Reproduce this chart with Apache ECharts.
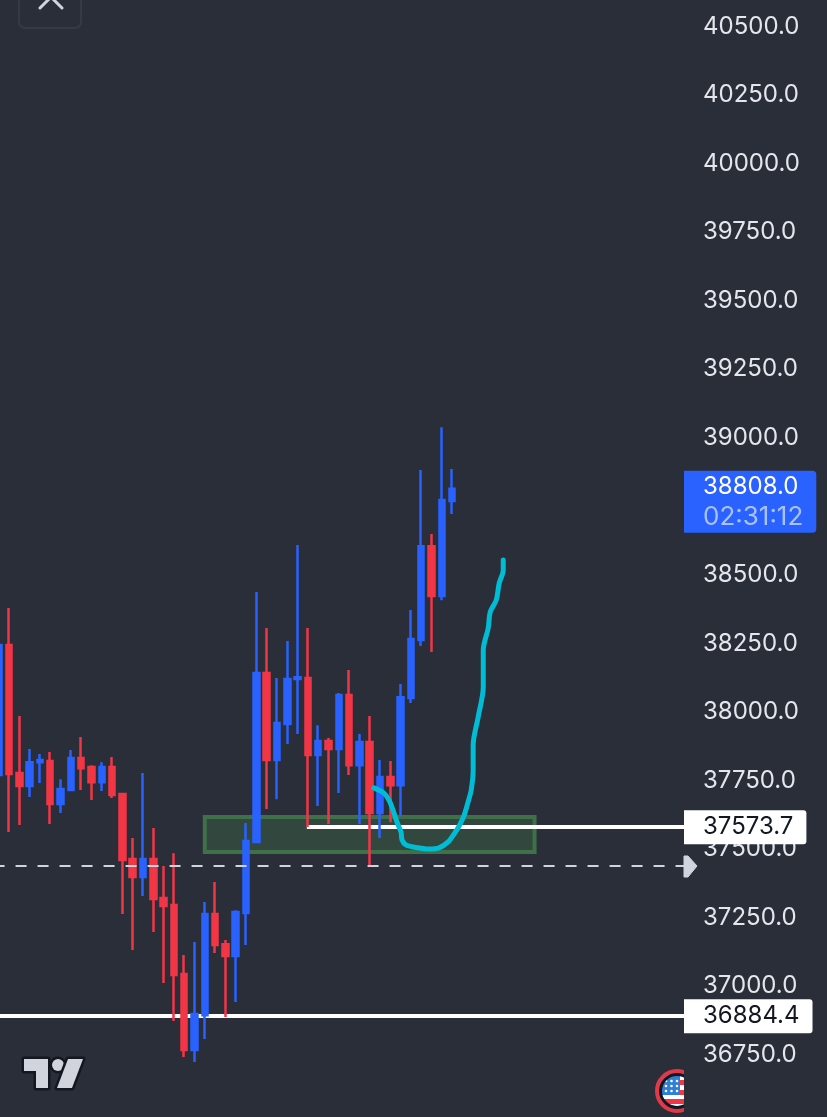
<!DOCTYPE html>
<html lang="en">
<head>
    <meta charset="UTF-8">
    <title>Chart</title>
    <script src="https://cdn.jsdelivr.net/npm/echarts@6/dist/echarts.min.js"></script>
    <style>
        *{
            margin: 0;
            padding: 0;
        }
        body{
            background-color: #2a2e39;
            overflow: hidden;
        }
        #main{
            width: 827px;
            height: 1117px;
        }
    </style>
</head>
<body>
<div id="main"></div>
<script>
    // candles, oldest first (prices)
    var opens  = [37764,38238,37771,37724,37811,37815,37658,37709,37826,37793,37738,37793,37695,37458,37392,37458,37315,37290,37038,36761,36888,37257,37147,37104,37261,37520,38136,37819,37950,38114,38118,37837,37888,37859,38056,37800,37884,37625,37757,37727,38045,38257,38599,38417,38764];
    var closes = [38238,37768,37724,37811,37819,37658,37713,37826,37789,37738,37793,37691,37454,37392,37458,37312,37286,37034,36761,36892,37257,37144,37104,37264,37523,38136,37819,37954,38114,38121,37837,37888,37859,38056,37800,37884,37625,37757,37727,38048,38260,38599,38417,38767,38808];
    var lows   = [37753,37556,37582,37684,37735,37585,37625,37706,37709,37673,37706,37680,37257,37126,37323,37191,37005,36867,36735,36717,36801,37115,36881,36936,37144,37520,37640,37676,37877,37914,37574,37651,37585,37698,37764,37585,37432,37534,37592,37614,38027,38235,38213,38402,38716];
    var highs  = [38257,38373,37979,37859,37841,37848,37749,37855,37903,37800,37811,37830,37698,37534,37771,37571,37432,37479,37107,37155,37301,37374,37162,37271,37589,38432,38300,38118,38253,38603,38300,37946,37899,38063,38147,37914,37979,37819,37815,38096,38366,38877,38643,39033,38880];

    // hand drawn curve, x in bar numbers
    var curveBars   = [36.41,37.38,37.87,38.26,38.65,39.04,39.14,39.52,40.3,41.76,42.73,43.61,44.19,44.68,45.17,45.55,45.85,46.04,46.04,46.53,47.02,47.02,47.5,47.7,48.28,48.57,48.96,48.96];
    var curvePrices = [37717,37698,37673,37636,37592,37556,37527,37509,37501,37494,37498,37520,37549,37578,37618,37666,37709,37782,37873,37976,38085,38220,38300,38359,38402,38464,38512,38548];

    var barCount = 67;
    var axisMin = 36500;
    var axisMax = 40750;
    var axisStep = 250;

    var upperLevel = 37573.7;
    var upperLevelBar = 29.9;
    var lowerLevel = 36884.4;
    var dashedLevel = 37432;
    var lastPrice = 38808.0;
    var countdown = '02:31:12';

    // green zone
    var zoneBars = [20, 52];
    var zonePrices = [37611, 37483];

    var categories = [];
    for (var i = 0; i < barCount; i++) {
        categories.push(String(i));
    }
    var candles = [];
    for (var j = 0; j < opens.length; j++) {
        candles.push([opens[j], closes[j], lows[j], highs[j]]);
    }
    var curve = [];
    for (var k = 0; k < curveBars.length; k++) {
        curve.push([curveBars[k], curvePrices[k]]);
    }

    var fontName = 'Inter, "Noto Sans", sans-serif';

    function levelLabel(v) {
        return {
            show: true,
            position: 'end',
            distance: 0,
            formatter: v.toFixed(1),
            backgroundColor: '#ffffff',
            color: '#131722',
            fontFamily: fontName,
            fontSize: 24,
            lineHeight: 24,
            padding: [6, 13, 4, 19],
            borderRadius: [0, 3, 3, 0]
        };
    }

    // little flag stars
    var flagStars = [];
    for (var r = 0; r < 3; r++) {
        for (var c = 0; c < 3; c++) {
            flagStars.push({
                type: 'circle', z: 21,
                shape: {cx: 666 + c * 5.5, cy: 1081 + r * 5, r: 1.3},
                style: {fill: '#ffffff'}
            });
        }
    }

    var graphics = [
        // close button
        {type: 'rect', z: 20, shape: {x: 19, y: -30, width: 62, height: 58, r: 6},
            style: {fill: 'none', stroke: '#363a45', lineWidth: 2}},
        {type: 'line', z: 20, shape: {x1: 40, y1: 8, x2: 53, y2: -5},
            style: {stroke: '#d1d4dc', lineWidth: 3, lineCap: 'round'}},
        {type: 'line', z: 20, shape: {x1: 62, y1: 8, x2: 49, y2: -5},
            style: {stroke: '#d1d4dc', lineWidth: 3, lineCap: 'round'}},
        // arrow at end of dashed line
        {type: 'polygon', z: 20, shape: {points: [[684, 856], [688, 856], [697, 866], [688, 877], [684, 877]]},
            style: {fill: '#d1d4dc', stroke: '#d1d4dc', lineWidth: 1, lineJoin: 'round'}},
        // logo
        {type: 'polygon', z: 20, shape: {points: [[24, 1059], [48, 1059], [48, 1088], [36, 1088], [36, 1071], [24, 1071]]},
            style: {fill: '#d1d4dc', stroke: '#131722', lineWidth: 5, lineJoin: 'round', strokeFirst: true}},
        {type: 'circle', z: 20, shape: {cx: 58, cy: 1065, r: 6},
            style: {fill: '#d1d4dc', stroke: '#131722', lineWidth: 5, strokeFirst: true}},
        {type: 'polygon', z: 20, shape: {points: [[68, 1059], [83, 1059], [72, 1088], [57, 1088]]},
            style: {fill: '#d1d4dc', stroke: '#131722', lineWidth: 5, lineJoin: 'round', strokeFirst: true}},
        // flag badge
        {type: 'circle', z: 20, shape: {cx: 677, cy: 1091, r: 17}, style: {fill: '#ffffff'}},
        {type: 'rect', z: 20, shape: {x: 661, y: 1099, width: 23, height: 5}, style: {fill: '#f23645'}},
        {type: 'rect', z: 20, shape: {x: 680, y: 1080, width: 4, height: 5}, style: {fill: '#f23645'}},
        {type: 'rect', z: 20, shape: {x: 680, y: 1090, width: 4, height: 5}, style: {fill: '#f23645'}},
        {type: 'rect', z: 20, shape: {x: 662, y: 1075, width: 18, height: 20}, style: {fill: '#2e7fd6'}},
        {type: 'circle', z: 22, shape: {cx: 677, cy: 1091, r: 16.5}, style: {fill: 'none', stroke: '#131722', lineWidth: 3}},
        {type: 'circle', z: 22, shape: {cx: 677, cy: 1091, r: 20}, style: {fill: 'none', stroke: '#e03a4a', lineWidth: 4}},
        {type: 'rect', z: 23, shape: {x: 684, y: 1068, width: 20, height: 48}, style: {fill: '#2a2e39'}}
    ].concat(flagStars);

    var myChart = echarts.init(document.getElementById('main'));

    var option = {
        backgroundColor: '#2a2e39',
        animation: false,
        grid: {
            outerBoundsMode: 'none',
            left: -6.44,
            top: -43.5,
            width: 690.44,
            height: 1165
        },
        xAxis: [
            {type: 'category', data: categories, show: false},
            {type: 'value', min: -0.5, max: barCount - 0.5, show: false}
        ],
        yAxis: {
            type: 'value',
            position: 'right',
            min: axisMin,
            max: axisMax,
            interval: axisStep,
            axisLine: {show: false},
            axisTick: {show: false},
            splitLine: {show: false},
            axisLabel: {
                margin: 19,
                showMinLabel: false,
                showMaxLabel: false,
                color: '#e4e6ec',
                fontFamily: fontName,
                fontSize: 24,
                verticalAlign: 'top',
                lineHeight: 3,
                formatter: function (v) { return v.toFixed(1); }
            }
        },
        series: [
            {
                type: 'candlestick',
                z: 2,
                barWidth: 6,
                data: candles,
                itemStyle: {
                    color: '#2962ff',
                    color0: '#f23645',
                    borderColor: '#2962ff',
                    borderColor0: '#f23645',
                    borderWidth: 2.5
                },
                markArea: {
                    silent: true,
                    z: 1,
                    itemStyle: {
                        color: 'rgba(62,112,70,0.4)',
                        borderColor: '#40704a',
                        borderWidth: 4
                    },
                    data: [[
                        {xAxis: zoneBars[0], yAxis: zonePrices[0]},
                        {xAxis: zoneBars[1], yAxis: zonePrices[1]}
                    ]]
                },
                markLine: {
                    silent: true,
                    z: 5,
                    symbol: 'none',
                    label: {show: false},
                    data: [
                        {
                            yAxis: dashedLevel,
                            lineStyle: {color: '#d1d4dc', width: 2, type: [11, 11]},
                            label: {show: false}
                        },
                        {
                            yAxis: lastPrice,
                            lineStyle: {color: 'rgba(0,0,0,0)', width: 0},
                            label: {
                                show: true,
                                position: 'end',
                                distance: 0,
                                offset: [0, 13],
                                formatter: '{a|' + lastPrice.toFixed(1) + '}\n{b|' + countdown + '}',
                                backgroundColor: '#2962ff',
                                borderRadius: [0, 4, 4, 0],
                                padding: [1, 13, 1, 19],
                                rich: {
                                    a: {color: '#ffffff', fontFamily: fontName, fontSize: 24, lineHeight: 30},
                                    b: {color: '#a9c1ff', fontFamily: fontName, fontSize: 26, lineHeight: 30}
                                }
                            }
                        }
                    ]
                }
            },
            {
                type: 'line',
                name: 'levels',
                xAxisIndex: 1,
                data: [],
                z: 1,
                markLine: {
                    silent: true,
                    z: 1,
                    symbol: 'none',
                    lineStyle: {color: '#ffffff', width: 4, type: 'solid'},
                    data: [
                        {yAxis: lowerLevel, label: levelLabel(lowerLevel)},
                        [
                            {coord: [upperLevelBar, upperLevel], label: levelLabel(upperLevel)},
                            {coord: [barCount - 0.5, upperLevel]}
                        ]
                    ]
                }
            },
            {
                type: 'line',
                name: 'curve',
                xAxisIndex: 1,
                z: 6,
                symbol: 'none',
                smooth: 0.3,
                lineStyle: {color: '#00bcd4', width: 5, cap: 'round', join: 'round'},
                data: curve
            }
        ],
        graphic: graphics
    };

    myChart.setOption(option);
</script>
</body>
</html>
